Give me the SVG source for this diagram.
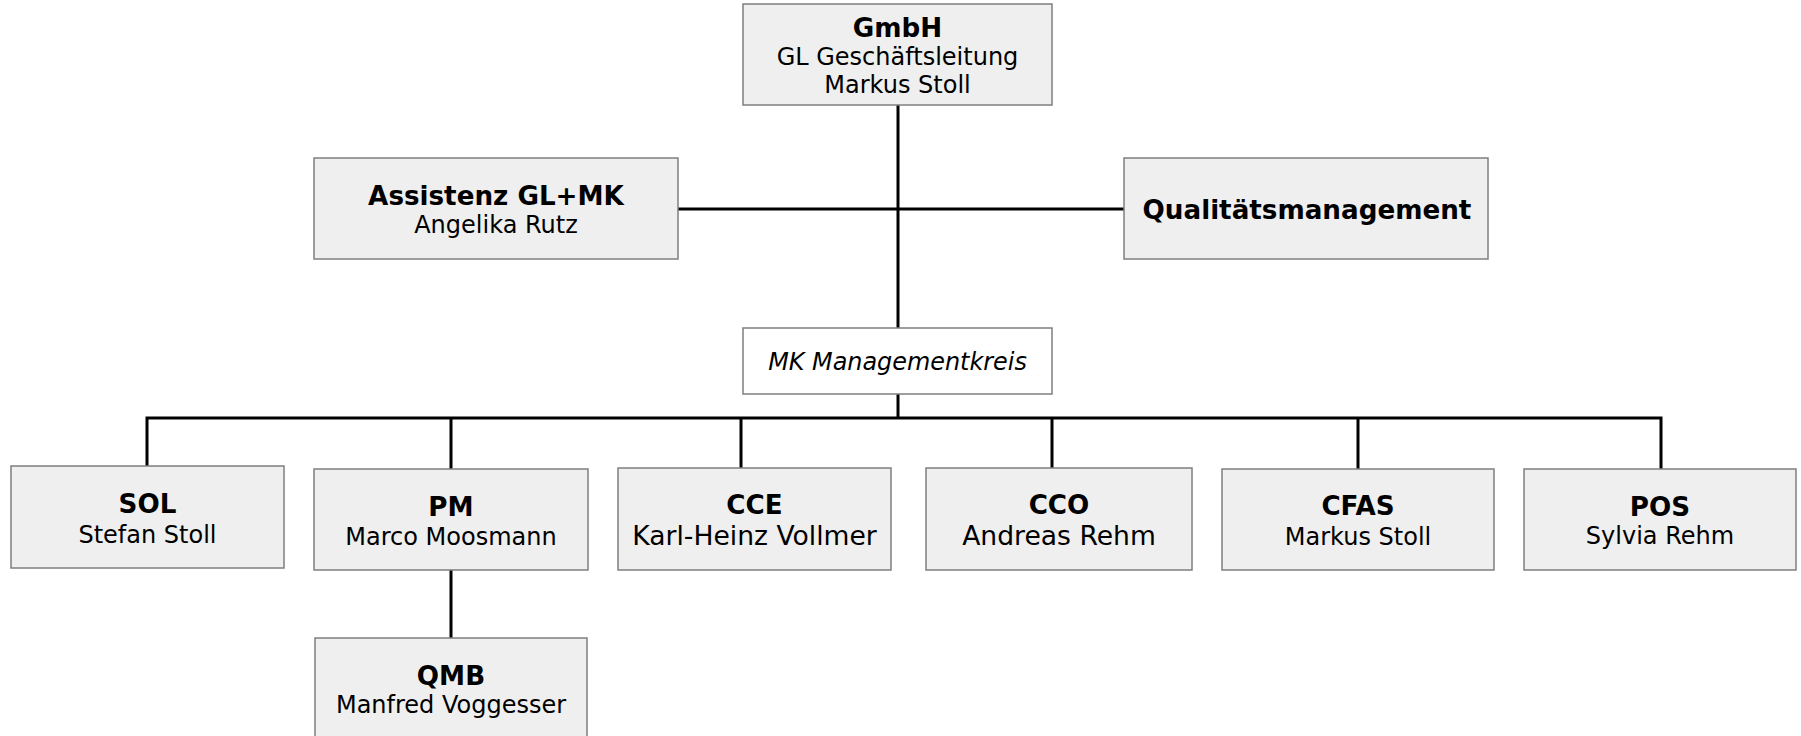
<svg xmlns="http://www.w3.org/2000/svg" width="1801" height="736" viewBox="0 0 1801 736">
<style>
.box{fill:#efefef;stroke:#7f7f7f;stroke-width:1.5}
.wbox{fill:#ffffff;stroke:#7f7f7f;stroke-width:1.5}
.con{fill:none;stroke:#000;stroke-width:3}
text{font-family:"DejaVu Sans","Liberation Sans",sans-serif;text-anchor:middle;fill:#000}
.b{font-weight:bold;font-size:26.2px}
.r{font-size:24px}
.rl{font-size:26.6px}
.i{font-style:italic;font-size:23.9px}
</style>
<rect width="1801" height="736" fill="#fff"/>
<g id="connectors">
<line class="con" x1="898" y1="105" x2="898" y2="328"/>
<line class="con" x1="678" y1="209" x2="1124" y2="209"/>
<line class="con" x1="898" y1="394" x2="898" y2="418"/>
<polyline class="con" points="147,466 147,418 1661,418 1661,469"/>
<line class="con" x1="451" y1="418" x2="451" y2="469"/>
<line class="con" x1="741" y1="418" x2="741" y2="468"/>
<line class="con" x1="1052" y1="418" x2="1052" y2="468"/>
<line class="con" x1="1358" y1="418" x2="1358" y2="469"/>
<line class="con" x1="451" y1="570" x2="451" y2="638"/>
</g>
<g id="gmbh">
<rect class="box" x="743" y="4" width="309" height="101"/>
<text class="b" x="897.5" y="37">GmbH</text>
<text class="r" x="897.5" y="65">GL Geschäftsleitung</text>
<text class="r" x="897.5" y="93">Markus Stoll</text>
</g>
<g id="assistenz">
<rect class="box" x="314" y="158" width="364" height="101"/>
<text class="b" x="496" y="205">Assistenz GL+MK</text>
<text class="r" x="496" y="233">Angelika Rutz</text>
</g>
<g id="qualitaet">
<rect class="box" x="1124" y="158" width="364" height="101"/>
<text class="b" x="1307" y="219">Qualitätsmanagement</text>
</g>
<g id="mk">
<rect class="wbox" x="743" y="328" width="309" height="66"/>
<text class="i" x="897.5" y="370">MK Managementkreis</text>
</g>
<g id="sol">
<rect class="box" x="11" y="466" width="273" height="102"/>
<text class="b" x="147.5" y="513">SOL</text>
<text class="r" x="147.5" y="543">Stefan Stoll</text>
</g>
<g id="pm">
<rect class="box" x="314" y="469" width="274" height="101"/>
<text class="b" x="451" y="516">PM</text>
<text class="r" x="451" y="545">Marco Moosmann</text>
</g>
<g id="cce">
<rect class="box" x="618" y="468" width="273" height="102"/>
<text class="b" x="754.5" y="514">CCE</text>
<text class="rl" x="754.5" y="545">Karl-Heinz Vollmer</text>
</g>
<g id="cco">
<rect class="box" x="926" y="468" width="266" height="102"/>
<text class="b" x="1059" y="514">CCO</text>
<text class="rl" x="1059" y="545">Andreas Rehm</text>
</g>
<g id="cfas">
<rect class="box" x="1222" y="469" width="272" height="101"/>
<text class="b" x="1358" y="515">CFAS</text>
<text class="r" x="1358" y="545">Markus Stoll</text>
</g>
<g id="pos">
<rect class="box" x="1524" y="469" width="272" height="101"/>
<text class="b" x="1660" y="516">POS</text>
<text class="r" x="1660" y="544">Sylvia Rehm</text>
</g>
<g id="qmb">
<rect class="box" x="315" y="638" width="272" height="110"/>
<text class="b" x="451" y="685">QMB</text>
<text class="r" x="451" y="713">Manfred Voggesser</text>
</g>
</svg>
